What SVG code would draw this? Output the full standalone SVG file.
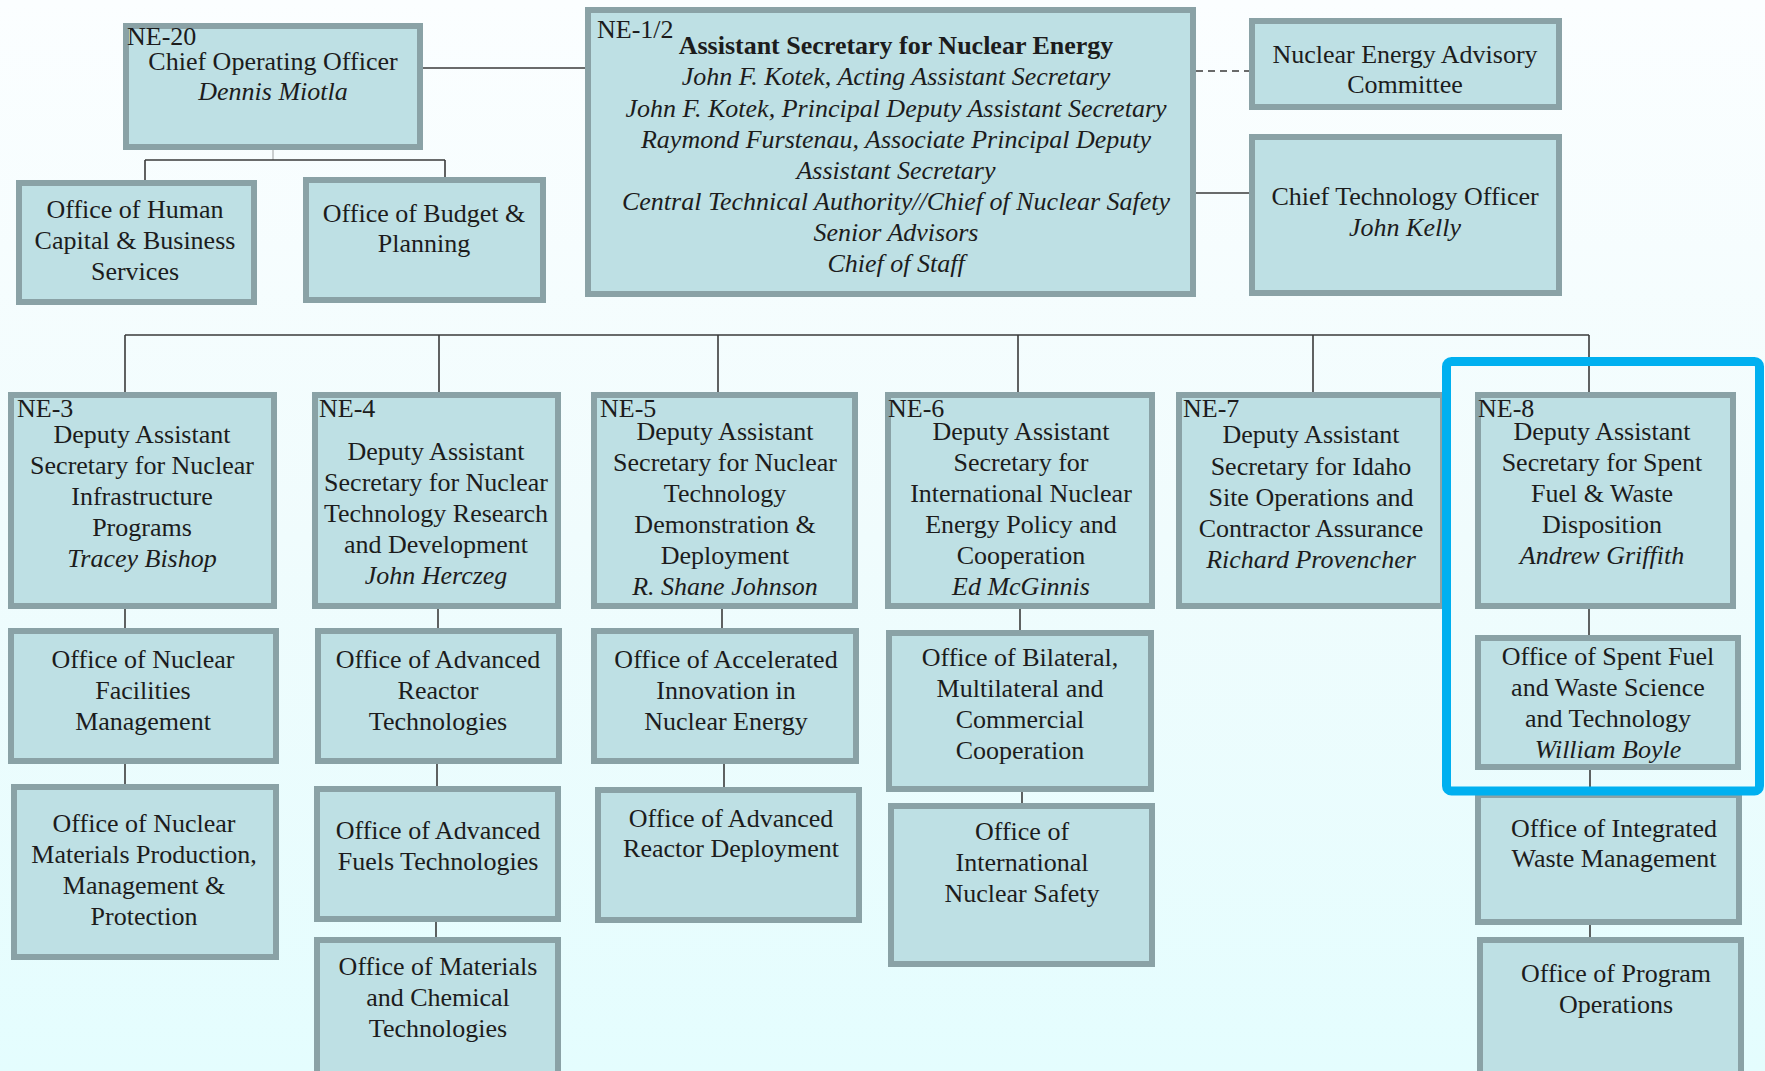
<svg xmlns="http://www.w3.org/2000/svg" width="1765" height="1071" viewBox="0 0 1765 1071">
<defs>
<linearGradient id="bg" x1="0" y1="0" x2="0" y2="1">
<stop offset="0" stop-color="#fbfeff"/>
<stop offset="0.5" stop-color="#f0fcfd"/>
<stop offset="1" stop-color="#e4fdfe"/>
</linearGradient>
</defs>
<style>
.box{fill:#bee0e4;stroke:#8aa2a6;stroke-width:6}
.t{font-family:"Liberation Serif","Times New Roman",serif;font-size:26px;fill:#1c1c1c;text-anchor:middle}
.i{font-style:italic}
.b{font-weight:bold}
.lbl{font-family:"Liberation Serif","Times New Roman",serif;font-size:26px;fill:#1c1c1c;text-anchor:start}
.c{stroke:#3a3a3a;stroke-width:1.6;fill:none}
.d{stroke:#3a3a3a;stroke-width:1.6;fill:none;stroke-dasharray:7 5}
.hl{fill:none;stroke:#00b0f0;stroke-width:9}
</style>
<rect x="0" y="0" width="1765" height="1071" fill="url(#bg)"/>

<g id="connectors">
<line class="c" x1="423" y1="68" x2="585" y2="68"/>
<line class="c" x1="273" y1="150" x2="273" y2="160" stroke-opacity="0.3"/>
<line class="c" x1="145" y1="160" x2="445" y2="160"/>
<line class="c" x1="145" y1="160" x2="145" y2="180"/>
<line class="c" x1="445" y1="160" x2="445" y2="177"/>
<line class="d" x1="1196" y1="71" x2="1249" y2="71"/>
<line class="c" x1="1196" y1="193" x2="1249" y2="193"/>
<line class="c" x1="125" y1="335" x2="1589" y2="335"/>
<line class="c" x1="125" y1="335" x2="125" y2="392"/>
<line class="c" x1="439" y1="335" x2="439" y2="392"/>
<line class="c" x1="718" y1="335" x2="718" y2="392"/>
<line class="c" x1="1018" y1="335" x2="1018" y2="392"/>
<line class="c" x1="1313" y1="335" x2="1313" y2="392"/>
<line class="c" x1="1589" y1="335" x2="1589" y2="392"/>
<line class="c" x1="125" y1="609" x2="125" y2="628"/>
<line class="c" x1="125" y1="764" x2="125" y2="784"/>
<line class="c" x1="438" y1="609" x2="438" y2="628"/>
<line class="c" x1="437" y1="764" x2="437" y2="786"/>
<line class="c" x1="436" y1="922" x2="436" y2="937"/>
<line class="c" x1="722" y1="609" x2="722" y2="628"/>
<line class="c" x1="724" y1="764" x2="724" y2="787"/>
<line class="c" x1="1020" y1="609" x2="1020" y2="630"/>
<line class="c" x1="1022" y1="792" x2="1022" y2="803"/>
<line class="c" x1="1589" y1="609" x2="1589" y2="635"/>
<line class="c" x1="1590" y1="770" x2="1590" y2="792"/>
<line class="c" x1="1590" y1="925" x2="1590" y2="937"/>
</g>

<g id="ne20">
<rect class="box" x="126" y="26" width="294" height="121"/>
<text class="lbl" x="127" y="45">NE-20</text>
<text class="t"><tspan x="273" y="70">Chief Operating Officer</tspan><tspan class="i" x="273" y="100">Dennis Miotla</tspan></text>
</g>

<g id="human-capital">
<rect class="box" x="19" y="183" width="235" height="119"/>
<text class="t"><tspan x="135" y="218">Office of Human</tspan><tspan x="135" y="249">Capital &amp; Business</tspan><tspan x="135" y="280">Services</tspan></text>
</g>

<g id="budget">
<rect class="box" x="306" y="180" width="237" height="120"/>
<text class="t"><tspan x="424" y="222">Office of Budget &amp;</tspan><tspan x="424" y="252">Planning</tspan></text>
</g>

<g id="ne1-2">
<rect class="box" x="588" y="10" width="605" height="284"/>
<text class="lbl" x="597" y="38">NE-1/2</text>
<text class="t b" x="896" y="54">Assistant Secretary for Nuclear Energy</text>
<text class="t i"><tspan x="896" y="85">John F. Kotek, Acting Assistant Secretary</tspan><tspan x="896" y="117">John F. Kotek, Principal Deputy Assistant Secretary</tspan><tspan x="896" y="148">Raymond Furstenau, Associate Principal Deputy</tspan><tspan x="896" y="179">Assistant Secretary</tspan><tspan x="896" y="210">Central Technical Authority//Chief of Nuclear Safety</tspan><tspan x="896" y="241">Senior Advisors</tspan><tspan x="896" y="272">Chief of Staff</tspan></text>
</g>

<g id="neac">
<rect class="box" x="1252" y="21" width="307" height="86"/>
<text class="t"><tspan x="1405" y="63">Nuclear Energy Advisory</tspan><tspan x="1405" y="93">Committee</tspan></text>
</g>

<g id="cto">
<rect class="box" x="1252" y="137" width="307" height="156"/>
<text class="t"><tspan x="1405" y="205">Chief Technology Officer</tspan><tspan class="i" x="1405" y="236">John Kelly</tspan></text>
</g>

<g id="ne3">
<rect class="box" x="11" y="395" width="263" height="211"/>
<text class="lbl" x="17" y="417">NE-3</text>
<text class="t"><tspan x="142" y="443">Deputy Assistant</tspan><tspan x="142" y="474">Secretary for Nuclear</tspan><tspan x="142" y="505">Infrastructure</tspan><tspan x="142" y="536">Programs</tspan><tspan class="i" x="142" y="567">Tracey Bishop</tspan></text>
</g>

<g id="ne4">
<rect class="box" x="315" y="395" width="243" height="211"/>
<text class="lbl" x="319" y="417">NE-4</text>
<text class="t"><tspan x="436" y="460">Deputy Assistant</tspan><tspan x="436" y="491">Secretary for Nuclear</tspan><tspan x="436" y="522">Technology Research</tspan><tspan x="436" y="553">and Development</tspan><tspan class="i" x="436" y="584">John Herczeg</tspan></text>
</g>

<g id="ne5">
<rect class="box" x="594" y="395" width="261" height="211"/>
<text class="lbl" x="600" y="417">NE-5</text>
<text class="t"><tspan x="725" y="440">Deputy Assistant</tspan><tspan x="725" y="471">Secretary for Nuclear</tspan><tspan x="725" y="502">Technology</tspan><tspan x="725" y="533">Demonstration &amp;</tspan><tspan x="725" y="564">Deployment</tspan><tspan class="i" x="725" y="595">R. Shane Johnson</tspan></text>
</g>

<g id="ne6">
<rect class="box" x="888" y="395" width="264" height="211"/>
<text class="lbl" x="888" y="417">NE-6</text>
<text class="t"><tspan x="1021" y="440">Deputy Assistant</tspan><tspan x="1021" y="471">Secretary for</tspan><tspan x="1021" y="502">International Nuclear</tspan><tspan x="1021" y="533">Energy Policy and</tspan><tspan x="1021" y="564">Cooperation</tspan><tspan class="i" x="1021" y="595">Ed McGinnis</tspan></text>
</g>

<g id="ne7">
<rect class="box" x="1179" y="395" width="264" height="211"/>
<text class="lbl" x="1183" y="417">NE-7</text>
<text class="t"><tspan x="1311" y="443">Deputy Assistant</tspan><tspan x="1311" y="475">Secretary for Idaho</tspan><tspan x="1311" y="506">Site Operations and</tspan><tspan x="1311" y="537">Contractor Assurance</tspan><tspan class="i" x="1311" y="568">Richard Provencher</tspan></text>
</g>

<g id="ne8">
<rect class="box" x="1478" y="395" width="255" height="211"/>
<text class="lbl" x="1478" y="417">NE-8</text>
<text class="t"><tspan x="1602" y="440">Deputy Assistant</tspan><tspan x="1602" y="471">Secretary for Spent</tspan><tspan x="1602" y="502">Fuel &amp; Waste</tspan><tspan x="1602" y="533">Disposition</tspan><tspan class="i" x="1602" y="564">Andrew Griffith</tspan></text>
</g>

<g id="ne3-facilities">
<rect class="box" x="11" y="631" width="265" height="130"/>
<text class="t"><tspan x="143" y="668">Office of Nuclear</tspan><tspan x="143" y="699">Facilities</tspan><tspan x="143" y="730">Management</tspan></text>
</g>

<g id="ne4-reactor-tech">
<rect class="box" x="318" y="631" width="241" height="130"/>
<text class="t"><tspan x="438" y="668">Office of Advanced</tspan><tspan x="438" y="699">Reactor</tspan><tspan x="438" y="730">Technologies</tspan></text>
</g>

<g id="ne5-accelerated">
<rect class="box" x="594" y="631" width="262" height="130"/>
<text class="t"><tspan x="726" y="668">Office of Accelerated</tspan><tspan x="726" y="699">Innovation in</tspan><tspan x="726" y="730">Nuclear Energy</tspan></text>
</g>

<g id="ne6-bilateral">
<rect class="box" x="889" y="633" width="262" height="156"/>
<text class="t"><tspan x="1020" y="666">Office of Bilateral,</tspan><tspan x="1020" y="697">Multilateral and</tspan><tspan x="1020" y="728">Commercial</tspan><tspan x="1020" y="759">Cooperation</tspan></text>
</g>

<g id="ne8-spent-fuel">
<rect class="box" x="1478" y="638" width="260" height="129"/>
<text class="t"><tspan x="1608" y="665">Office of Spent Fuel</tspan><tspan x="1608" y="696">and Waste Science</tspan><tspan x="1608" y="727">and Technology</tspan><tspan class="i" x="1608" y="758">William Boyle</tspan></text>
</g>

<g id="ne3-materials">
<rect class="box" x="14" y="787" width="262" height="170"/>
<text class="t"><tspan x="144" y="832">Office of Nuclear</tspan><tspan x="144" y="863">Materials Production,</tspan><tspan x="144" y="894">Management &amp;</tspan><tspan x="144" y="925">Protection</tspan></text>
</g>

<g id="ne4-fuels">
<rect class="box" x="317" y="789" width="241" height="130"/>
<text class="t"><tspan x="438" y="839">Office of Advanced</tspan><tspan x="438" y="870">Fuels Technologies</tspan></text>
</g>

<g id="ne4-materials-chem">
<rect class="box" x="317" y="940" width="241" height="136"/>
<text class="t"><tspan x="438" y="975">Office of Materials</tspan><tspan x="438" y="1006">and Chemical</tspan><tspan x="438" y="1037">Technologies</tspan></text>
</g>

<g id="ne5-reactor-deploy">
<rect class="box" x="598" y="790" width="261" height="130"/>
<text class="t"><tspan x="731" y="827">Office of Advanced</tspan><tspan x="731" y="857">Reactor Deployment</tspan></text>
</g>

<g id="ne6-safety">
<rect class="box" x="891" y="806" width="261" height="158"/>
<text class="t"><tspan x="1022" y="840">Office of</tspan><tspan x="1022" y="871">International</tspan><tspan x="1022" y="902">Nuclear Safety</tspan></text>
</g>

<g id="ne8-integrated">
<rect class="box" x="1478" y="795" width="261" height="127"/>
<text class="t"><tspan x="1614" y="837">Office of Integrated</tspan><tspan x="1614" y="867">Waste Management</tspan></text>
</g>

<g id="ne8-program-ops">
<rect class="box" x="1480" y="940" width="261" height="136"/>
<text class="t"><tspan x="1616" y="982">Office of Program</tspan><tspan x="1616" y="1013">Operations</tspan></text>
</g>

<g id="highlight">
<rect class="hl" x="1446.5" y="361.5" width="313" height="429.5" rx="5"/>
</g>
</svg>
